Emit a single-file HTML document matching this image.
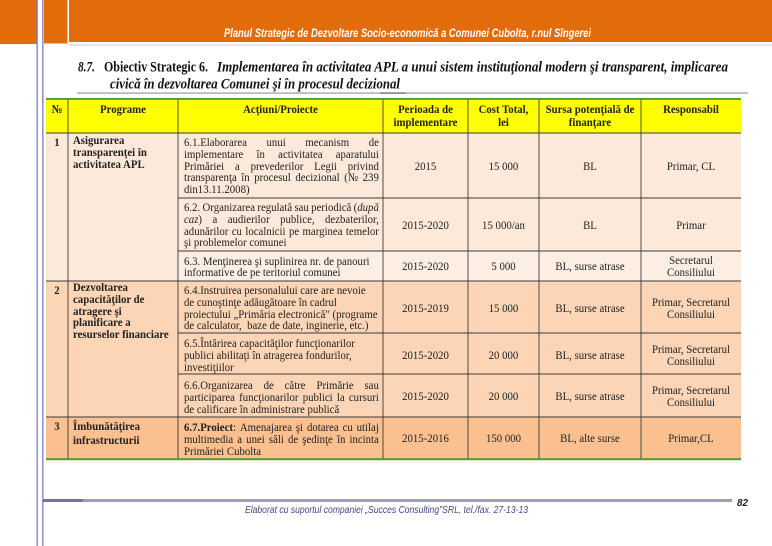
<!DOCTYPE html>
<html>
<head>
<meta charset="utf-8">
<style>
html,body{margin:0;padding:0;background:#fff;}
#pg{position:relative;width:772px;height:546px;overflow:hidden;background:#fff;}
svg{position:absolute;left:0;top:0;}
.t{position:absolute;font-family:"Liberation Serif",serif;font-size:11.8px;line-height:12px;color:#222;white-space:nowrap;transform:scaleX(0.915);transform-origin:0 0;}
.b{font-weight:bold;}
.c{text-align:center;transform-origin:50% 0;}
.j{width:213px;display:flex;justify-content:space-between;}
.a{left:184px;}
.p{left:73px;}
.n{left:46px;width:22px;}
.c1{left:383px;width:85px;}
.c2{left:468px;width:71px;}
.c3{left:539px;width:102px;}
.c4{left:641px;width:100px;}
</style>
</head>
<body>
<div id="pg">
<svg width="772" height="546" viewBox="0 0 772 546" xmlns="http://www.w3.org/2000/svg">
  <rect x="0" y="0" width="36.5" height="44" fill="#e36c0a"/>
  <rect x="44" y="0" width="728" height="43.5" fill="#e36c0a"/>
  <rect x="67.5" y="0" width="1.5" height="43.5" fill="#ffffff"/>
  <rect x="69" y="42" width="703" height="1.5" fill="#ffffff"/>
  <rect x="69" y="44.5" width="703" height="1" fill="#c9c9c9"/>
  <text x="224" y="37" textLength="367" lengthAdjust="spacingAndGlyphs" font-family="Liberation Sans, sans-serif" font-size="12" font-style="italic" font-weight="bold" fill="#ffffff">Planul Strategic de Dezvoltare Socio-economică a Comunei Cubolta, r.nul Sîngerei</text>
  <rect x="36.5" y="0" width="1.3" height="546" fill="#7f78c6"/>
  <rect x="42.2" y="0" width="1.3" height="546" fill="#7f78c6"/>
  <text x="78" y="71.5" textLength="17" lengthAdjust="spacingAndGlyphs" font-family="Liberation Serif, serif" font-size="15" font-style="italic" font-weight="bold" fill="#111">8.7.</text>
  <text x="104" y="71.5" textLength="104" lengthAdjust="spacingAndGlyphs" font-family="Liberation Serif, serif" font-size="15" font-weight="bold" fill="#111">Obiectiv Strategic 6.</text>
  <text x="217" y="71.5" textLength="511" lengthAdjust="spacingAndGlyphs" font-family="Liberation Serif, serif" font-size="15" font-style="italic" font-weight="bold" fill="#111">Implementarea în activitatea APL a unui sistem instituţional modern şi transparent,  implicarea</text>
  <text x="110" y="88.5" textLength="290" lengthAdjust="spacingAndGlyphs" font-family="Liberation Serif, serif" font-size="15" font-style="italic" font-weight="bold" fill="#111">civică în dezvoltarea Comunei şi în procesul decizional</text>
  <rect x="77" y="92.3" width="671" height="1.6" fill="#b4b4b4"/>
  <rect x="380" y="92.3" width="26" height="1.6" fill="#8c8c8c"/>

  <rect x="46" y="99" width="695" height="34" fill="#ffff00"/>
  <rect x="46" y="133" width="695" height="148" fill="#fde9d9"/>
  <rect x="178" y="251" width="563" height="30" fill="#fdeee4"/>
  <rect x="46" y="281" width="695" height="136" fill="#fbd5b5"/>
  <rect x="46" y="417" width="695" height="42" fill="#fac090"/>

  <g stroke="#3c3c3c" stroke-width="0.9" fill="none">
    <line x1="46" y1="133" x2="741" y2="133"/>
    <line x1="178" y1="198" x2="741" y2="198"/>
    <line x1="178" y1="251" x2="741" y2="251"/>
    <line x1="46" y1="281" x2="741" y2="281"/>
    <line x1="178" y1="333" x2="741" y2="333"/>
    <line x1="178" y1="374" x2="741" y2="374"/>
    <line x1="46" y1="417" x2="741" y2="417"/>
    <line x1="68" y1="99" x2="68" y2="459"/>
    <line x1="178" y1="99" x2="178" y2="459"/>
    <line x1="383" y1="99" x2="383" y2="459"/>
    <line x1="468" y1="99" x2="468" y2="459"/>
    <line x1="539" y1="99" x2="539" y2="459"/>
    <line x1="641" y1="99" x2="641" y2="459"/>
  </g>
  <rect x="46" y="98" width="695" height="1.8" fill="#4e9a2e"/>
  <rect x="46" y="458.2" width="695" height="2" fill="#4e9a2e"/>

  <rect x="43" y="499" width="689" height="3" fill="#9c9cc9"/>
  <rect x="43" y="499" width="40" height="3" fill="#7272a8"/>
  <text x="245" y="513" textLength="283" lengthAdjust="spacingAndGlyphs" font-family="Liberation Sans, sans-serif" font-size="10.5" font-style="italic" fill="#45458a">Elaborat cu suportul companiei „Succes Consulting"SRL, tel./fax. 27-13-13</text>
  <text x="737" y="506" textLength="11" lengthAdjust="spacingAndGlyphs" font-family="Liberation Sans, sans-serif" font-size="10" font-style="italic" font-weight="bold" fill="#222">82</text>
</svg>

<!-- header -->
<div class="t b c n" style="top:103.1px">№</div>
<div class="t b c" style="left:68px;width:110px;top:103.1px">Programe</div>
<div class="t b c" style="left:178px;width:205px;top:103.1px">Acţiuni/Proiecte</div>
<div class="t b c c1" style="top:102.6px">Perioada de</div>
<div class="t b c c1" style="top:115.9px">implementare</div>
<div class="t b c c2" style="top:102.6px">Cost Total,</div>
<div class="t b c c2" style="top:115.9px">lei</div>
<div class="t b c c3" style="top:102.6px">Sursa potenţială de</div>
<div class="t b c c3" style="top:115.9px">finanţare</div>
<div class="t b c c4" style="top:103.1px">Responsabil</div>

<!-- row 1 -->
<div class="t b c n" style="top:136.1px">1</div>
<div class="t b p" style="top:134.1px">Asigurarea</div>
<div class="t b p" style="top:145.8px">transparenţei în</div>
<div class="t b p" style="top:157.5px">activitatea APL</div>
<div class="t a j" style="top:136.1px"><span>6.1.Elaborarea</span><span>unui</span><span>mecanism</span><span>de</span></div>
<div class="t a j" style="top:147.8px"><span>implementare</span><span>în</span><span>activitatea</span><span>aparatului</span></div>
<div class="t a j" style="top:159.5px"><span>Primăriei</span><span>a</span><span>prevederilor</span><span>Legii</span><span>privind</span></div>
<div class="t a j" style="top:171.2px"><span>transparenţa</span><span>în</span><span>procesul</span><span>decizional</span><span>(№</span><span>239</span></div>
<div class="t a" style="top:182.9px">din13.11.2008)</div>
<div class="t c c1" style="top:159.6px">2015</div>
<div class="t c c2" style="top:159.6px">15 000</div>
<div class="t c c3" style="top:159.6px">BL</div>
<div class="t c c4" style="top:159.6px">Primar, CL</div>

<!-- row 2 -->
<div class="t a j" style="top:201.3px"><span>6.2.</span><span>Organizarea</span><span>regulată</span><span>sau</span><span>periodică</span><span>(<i>după</i></span></div>
<div class="t a j" style="top:213.0px"><span><i>caz</i>)</span><span>a</span><span>audierilor</span><span>publice,</span><span>dezbaterilor,</span></div>
<div class="t a j" style="top:224.7px"><span>adunărilor</span><span>cu</span><span>localnicii</span><span>pe</span><span>marginea</span><span>temelor</span></div>
<div class="t a" style="top:236.4px">şi problemelor comunei</div>
<div class="t c c1" style="top:218.6px">2015-2020</div>
<div class="t c c2" style="top:218.6px">15 000/an</div>
<div class="t c c3" style="top:218.6px">BL</div>
<div class="t c c4" style="top:218.6px">Primar</div>

<!-- row 3 -->
<div class="t a" style="top:254.6px">6.3. Menţinerea şi suplinirea nr. de panouri</div>
<div class="t a" style="top:266.3px">informative de pe teritoriul comunei</div>
<div class="t c c1" style="top:259.6px">2015-2020</div>
<div class="t c c2" style="top:259.6px">5 000</div>
<div class="t c c3" style="top:259.6px">BL, surse atrase</div>
<div class="t c c4" style="top:254.3px">Secretarul</div>
<div class="t c c4" style="top:266.1px">Consiliului</div>

<!-- row 4 -->
<div class="t b c n" style="top:283.6px">2</div>
<div class="t b p" style="top:281.3px">Dezvoltarea</div>
<div class="t b p" style="top:293.0px">capacităţilor de</div>
<div class="t b p" style="top:304.7px">atragere şi</div>
<div class="t b p" style="top:316.4px">planificare a</div>
<div class="t b p" style="top:328.1px">resurselor financiare</div>
<div class="t a" style="top:283.9px">6.4.Instruirea personalului care are nevoie</div>
<div class="t a" style="top:295.7px">de cunoştinţe adăugătoare în cadrul</div>
<div class="t a" style="top:307.5px">proiectului „Primăria electronică" (programe</div>
<div class="t a" style="top:319.3px">de calculator,&nbsp; baze de date, inginerie, etc.)</div>
<div class="t c c1" style="top:301.6px">2015-2019</div>
<div class="t c c2" style="top:301.6px">15 000</div>
<div class="t c c3" style="top:301.6px">BL, surse atrase</div>
<div class="t c c4" style="top:295.9px">Primar, Secretarul</div>
<div class="t c c4" style="top:307.7px">Consiliului</div>

<!-- row 5 -->
<div class="t a" style="top:336.9px">6.5.Întărirea capacităţilor funcţionarilor</div>
<div class="t a" style="top:348.7px">publici abilitaţi în atragerea fondurilor,</div>
<div class="t a" style="top:360.5px">investiţiilor</div>
<div class="t c c1" style="top:348.9px">2015-2020</div>
<div class="t c c2" style="top:348.9px">20 000</div>
<div class="t c c3" style="top:348.9px">BL, surse atrase</div>
<div class="t c c4" style="top:342.9px">Primar, Secretarul</div>
<div class="t c c4" style="top:354.7px">Consiliului</div>

<!-- row 6 -->
<div class="t a j" style="top:379.3px"><span>6.6.Organizarea</span><span>de</span><span>către</span><span>Primărie</span><span>sau</span></div>
<div class="t a j" style="top:391.0px"><span>participarea</span><span>funcţionarilor</span><span>publici</span><span>la</span><span>cursuri</span></div>
<div class="t a" style="top:402.7px">de calificare în administrare publică</div>
<div class="t c c1" style="top:390.3px">2015-2020</div>
<div class="t c c2" style="top:390.3px">20 000</div>
<div class="t c c3" style="top:390.3px">BL, surse atrase</div>
<div class="t c c4" style="top:384.1px">Primar, Secretarul</div>
<div class="t c c4" style="top:395.9px">Consiliului</div>

<!-- row 7 -->
<div class="t b c n" style="top:419.6px">3</div>
<div class="t b p" style="top:420.1px">Îmbunătăţirea</div>
<div class="t b p" style="top:433.6px">infrastructurii</div>
<div class="t a j" style="top:421.1px"><span><b>6.7.Proiect</b>:</span><span>Amenajarea</span><span>şi</span><span>dotarea</span><span>cu</span><span>utilaj</span></div>
<div class="t a j" style="top:432.8px"><span>multimedia</span><span>a</span><span>unei</span><span>săli</span><span>de</span><span>şedinţe</span><span>în</span><span>incinta</span></div>
<div class="t a" style="top:444.5px">Primăriei Cubolta</div>
<div class="t c c1" style="top:431.9px">2015-2016</div>
<div class="t c c2" style="top:431.9px">150 000</div>
<div class="t c c3" style="top:431.9px">BL, alte surse</div>
<div class="t c c4" style="top:431.9px">Primar,CL</div>
</div>
</body>
</html>
